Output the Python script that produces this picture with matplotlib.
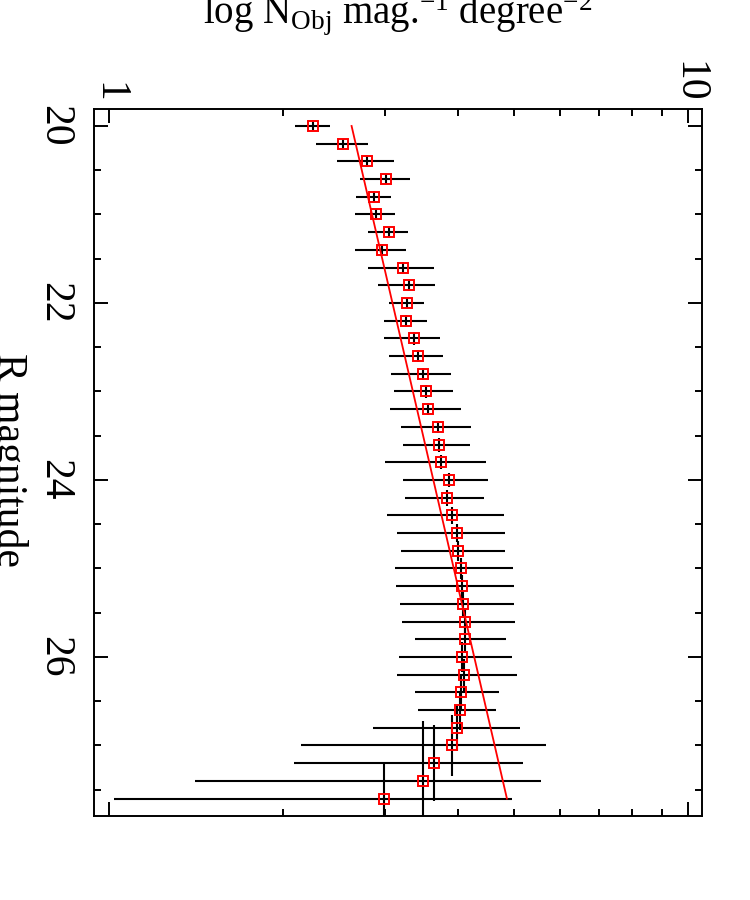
import matplotlib
matplotlib.use('Agg')
import matplotlib.pyplot as plt
from matplotlib.ticker import FixedLocator, NullFormatter

plt.rcParams['font.family'] = ['Liberation Serif', 'DejaVu Serif']
plt.rcParams['mathtext.fontset'] = 'custom'
plt.rcParams['mathtext.rm'] = 'Liberation Serif'
plt.rcParams['mathtext.it'] = 'Liberation Serif:italic'

# R magnitude bins
mag = [20.0, 20.2, 20.4, 20.6, 20.8, 21.0, 21.2, 21.4, 21.6, 21.8,
       22.0, 22.2, 22.4, 22.6, 22.8, 23.0, 23.2, 23.4, 23.6, 23.8,
       24.0, 24.2, 24.4, 24.6, 24.8, 25.0, 25.2, 25.4, 25.6, 25.8,
       26.0, 26.2, 26.4, 26.6, 26.8, 27.0, 27.2, 27.4, 27.6]
mag_err = [0.05, 0.05, 0.06, 0.06, 0.06, 0.06, 0.06, 0.06, 0.06, 0.06,
           0.06, 0.06, 0.07, 0.07, 0.07, 0.07, 0.07, 0.07, 0.08, 0.08,
           0.08, 0.09, 0.10, 0.10, 0.11, 0.12, 0.13, 0.14, 0.15, 0.16,
           0.17, 0.18, 0.20, 0.22, 0.26, 0.35, 0.43, 0.68, 0.41]

# counts per mag per sq degree
n_obj = [2.25, 2.54, 2.79, 3.01, 2.87, 2.89, 3.04, 2.96, 3.22, 3.29,
         3.27, 3.26, 3.36, 3.41, 3.48, 3.52, 3.56, 3.70, 3.71, 3.74,
         3.86, 3.84, 3.91, 3.99, 4.01, 4.05, 4.07, 4.09, 4.11, 4.11,
         4.07, 4.10, 4.05, 4.03, 3.99, 3.91, 3.64, 3.49, 2.99]
n_err = [0.155, 0.26, 0.31, 0.30, 0.20, 0.23, 0.24, 0.30, 0.42, 0.37,
         0.23, 0.28, 0.37, 0.36, 0.415, 0.41, 0.50, 0.51, 0.49, 0.74,
         0.645, 0.60, 0.89, 0.845, 0.82, 0.935, 0.94, 0.91, 0.91, 0.73,
         0.90, 0.955, 0.67, 0.62, 1.13, 1.76, 1.55, 2.08, 1.97]

# straight line fit
fit_mag = [20.0, 27.6]
fit_n = [2.624, 4.864]

fig = plt.figure(figsize=(7.5, 9), dpi=100)
ax = fig.add_axes([0.1253, 0.0933, 0.8111, 0.7853])

ax.errorbar(n_obj, mag, xerr=n_err, yerr=mag_err, fmt='none',
            ecolor='black', elinewidth=1.5, capsize=0, zorder=2)
ax.plot(n_obj, mag, 's', mfc='none', mec='red', ms=7, mew=1.4, zorder=3)
ax.plot(fit_n, fit_mag, '-', color='red', lw=1.3, zorder=4)

ax.set_xscale('log')
ax.set_xlim(0.943, 10.57)
ax.set_ylim(27.797, 19.811)

ax.xaxis.set_major_locator(FixedLocator([1, 10]))
ax.xaxis.set_minor_locator(FixedLocator([2, 3, 4, 5, 6, 7, 8, 9]))
ax.xaxis.set_minor_formatter(NullFormatter())
ax.set_xticklabels(['1', '10'], rotation=-90, ha='center', va='bottom')

ax.yaxis.set_major_locator(FixedLocator([20, 22, 24, 26]))
ax.yaxis.set_minor_locator(FixedLocator([20.5, 21, 21.5, 22.5, 23, 23.5, 24.5, 25, 25.5, 26.5, 27, 27.5]))
ax.set_yticklabels(['20', '22', '24', '26'], rotation=-90, ha='right', va='center')

ax.tick_params(axis='x', which='both', direction='in', top=True, bottom=True,
               labeltop=True, labelbottom=False, width=1.4, labelsize=30, pad=5)
ax.tick_params(axis='y', which='both', direction='in', left=True, right=True,
               labelleft=True, labelright=False, width=1.4, labelsize=30, pad=15)
ax.tick_params(which='major', length=10)
ax.tick_params(which='minor', length=5)
for s in ax.spines.values():
    s.set_linewidth(1.4)

fig.text(398 / 750, 1 - 23 / 900, r'log N$_{\rm Obj}$ mag.$^{-1}$ degree$^{-2}$',
         ha='center', va='baseline', fontsize=28)
fig.text(-2 / 750, 1 - 460 / 900, 'R magnitude', rotation=-90,
         rotation_mode='anchor', ha='center', va='baseline', fontsize=30)

fig.savefig('out.png', dpi=100)
